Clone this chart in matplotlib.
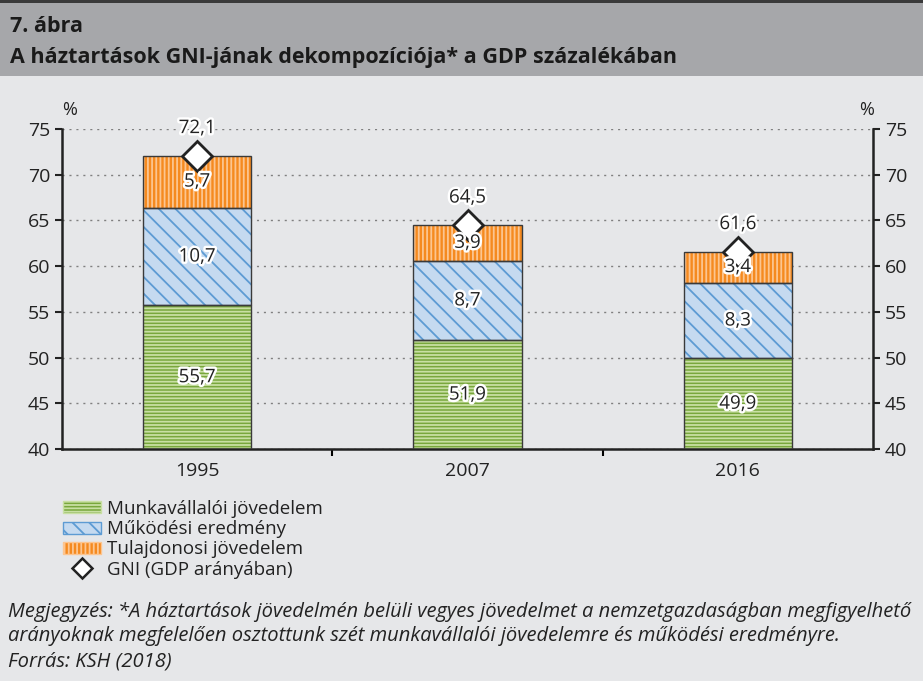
import numpy as np
import matplotlib.pyplot as plt
import matplotlib.patheffects as pe
from matplotlib.patches import Patch, Rectangle
from matplotlib.lines import Line2D

plt.rcParams['font.family'] = ['Open Sans', 'DejaVu Sans']
plt.rcParams['hatch.linewidth'] = 1.3

# adatok
evek = ['1995', '2007', '2016']
munkavallaloi = [55.7, 51.9, 49.9]
mukodesi = [10.7, 8.7, 8.3]
tulajdonosi = [5.7, 3.9, 3.4]
gni = [72.1, 64.5, 61.6]
nevek = ['Munkavállalói jövedelem', 'Működési eredmény', 'Tulajdonosi jövedelem', 'GNI (GDP arányában)']

bg = '#e6e7e9'
szoveg = '#222222'
fig = plt.figure(figsize=(9.23, 6.81), dpi=100, facecolor=bg)

# fejlec
fig.patches.append(Rectangle((0, 1 - 76/681), 1, 73/681, transform=fig.transFigure,
                             facecolor='#a6a7aa', edgecolor='none', zorder=0))
fig.patches.append(Rectangle((0, 1 - 3/681), 1, 3/681, transform=fig.transFigure,
                             facecolor='#3a3a3a', edgecolor='none', zorder=0))
fig.text(10/923, 1 - 26/681, '7. ábra', fontsize=15.5, fontweight='bold', color='#1a1a1a', va='center')
fig.text(10/923, 1 - 57/681, 'A háztartások GNI-jának dekompozíciója* a GDP százalékában',
         fontsize=15.5, fontweight='bold', color='#1a1a1a', va='center')

ax = fig.add_axes([62/923, 1 - 449/681, 811/923, 320/681])
ax.set_facecolor(bg)
x = np.arange(len(evek))
w = 0.4
ymin = 40

zold, zold_csik = '#78a73c', '#c8dfa3'
kek, kek_csik = '#c5daf0', '#5d9bd3'
narancs, narancs_csik = '#f58a1f', '#fcc590'
keret = '#3a3a3a'

felirat_stilus = dict(ha='center', va='center', fontsize=13.5, color=szoveg, zorder=7,
                      path_effects=[pe.withStroke(linewidth=3.5, foreground='white')])

alj = np.zeros(3)
for vals, fc, hc, h in [(munkavallaloi, zold, zold_csik, '-----'),
                        (mukodesi, kek, kek_csik, '\\\\'),
                        (tulajdonosi, narancs, narancs_csik, '||||')]:
    ax.bar(x, vals, w, bottom=alj, color=fc, edgecolor=hc, hatch=h, linewidth=0, zorder=2)
    ax.bar(x, vals, w, bottom=alj, fill=False, edgecolor=keret, linewidth=1.0, zorder=3)
    for i, v in enumerate(vals):
        lo = max(alj[i], ymin)
        ax.text(x[i], (lo + alj[i] + v) / 2, f'{v:.1f}'.replace('.', ','), **felirat_stilus)
    alj = alj + np.array(vals)

ax.plot(x, gni, linestyle='none', marker='D', markersize=15, markerfacecolor='white',
        markeredgecolor=szoveg, markeredgewidth=2, zorder=6)
for i, v in enumerate(gni):
    ax.text(x[i], v + 3.0, f'{v:.1f}'.replace('.', ','), **felirat_stilus)

ax.set_xlim(-0.5, 2.5)
ax.set_ylim(ymin, 75)
ax.set_yticks(range(40, 80, 5))
ax.yaxis.grid(True, linestyle=(0, (1.5, 3.5)), color='#808080', linewidth=1.0, zorder=1)
ax.set_axisbelow(True)
ax.tick_params(axis='y', which='both', labelsize=14, colors=szoveg, direction='out',
               length=5, width=1.5, left=True, right=True, labelleft=True, labelright=True)
ax.set_xticks([0.5, 1.5])
ax.set_xticklabels([])
ax.tick_params(axis='x', which='major', direction='out', length=5, width=1.5)
ax.set_xticks(x, minor=True)
ax.set_xticklabels(evek, minor=True, fontsize=14, color=szoveg)
ax.tick_params(axis='x', which='minor', length=0, pad=9)
for s in ['left', 'right', 'bottom']:
    ax.spines[s].set_color(szoveg)
    ax.spines[s].set_linewidth(1.8)
ax.spines['top'].set_visible(False)

fig.text(70/923, 1 - 110/681, '%', fontsize=13, color=szoveg, ha='center', va='center')
fig.text(867/923, 1 - 110/681, '%', fontsize=13, color=szoveg, ha='center', va='center')

# jelmagyarazat
kezelok = [Patch(facecolor=zold, edgecolor=zold_csik, hatch='-----'),
           Patch(facecolor=kek, edgecolor=kek_csik, hatch='\\\\'),
           Patch(facecolor=narancs, edgecolor=narancs_csik, hatch='||||'),
           Line2D([], [], linestyle='none', marker='D', markersize=10, markerfacecolor='white',
                  markeredgecolor=szoveg, markeredgewidth=1.8)]
leg = fig.legend(kezelok, nevek, loc='upper left', bbox_to_anchor=(63/923, 1 - 500/681),
                 frameon=False, fontsize=13.5, handlelength=2.0, handleheight=0.6,
                 labelspacing=0.12, handletextpad=0.35, borderaxespad=0, borderpad=0)
for t in leg.get_texts():
    t.set_color(szoveg)

jegyzet = dict(fontsize=14.5, style='italic', color=szoveg, va='center')
fig.text(8/923, 1 - 612/681, 'Megjegyzés: *A háztartások jövedelmén belüli vegyes jövedelmet a nemzetgazdaságban megfigyelhető', **jegyzet)
fig.text(8/923, 1 - 636/681, 'arányoknak megfelelően osztottunk szét munkavállalói jövedelemre és működési eredményre.', **jegyzet)
fig.text(8/923, 1 - 661/681, 'Forrás: KSH (2018)', **jegyzet)

fig.savefig('out.png', dpi=100, facecolor=bg)
